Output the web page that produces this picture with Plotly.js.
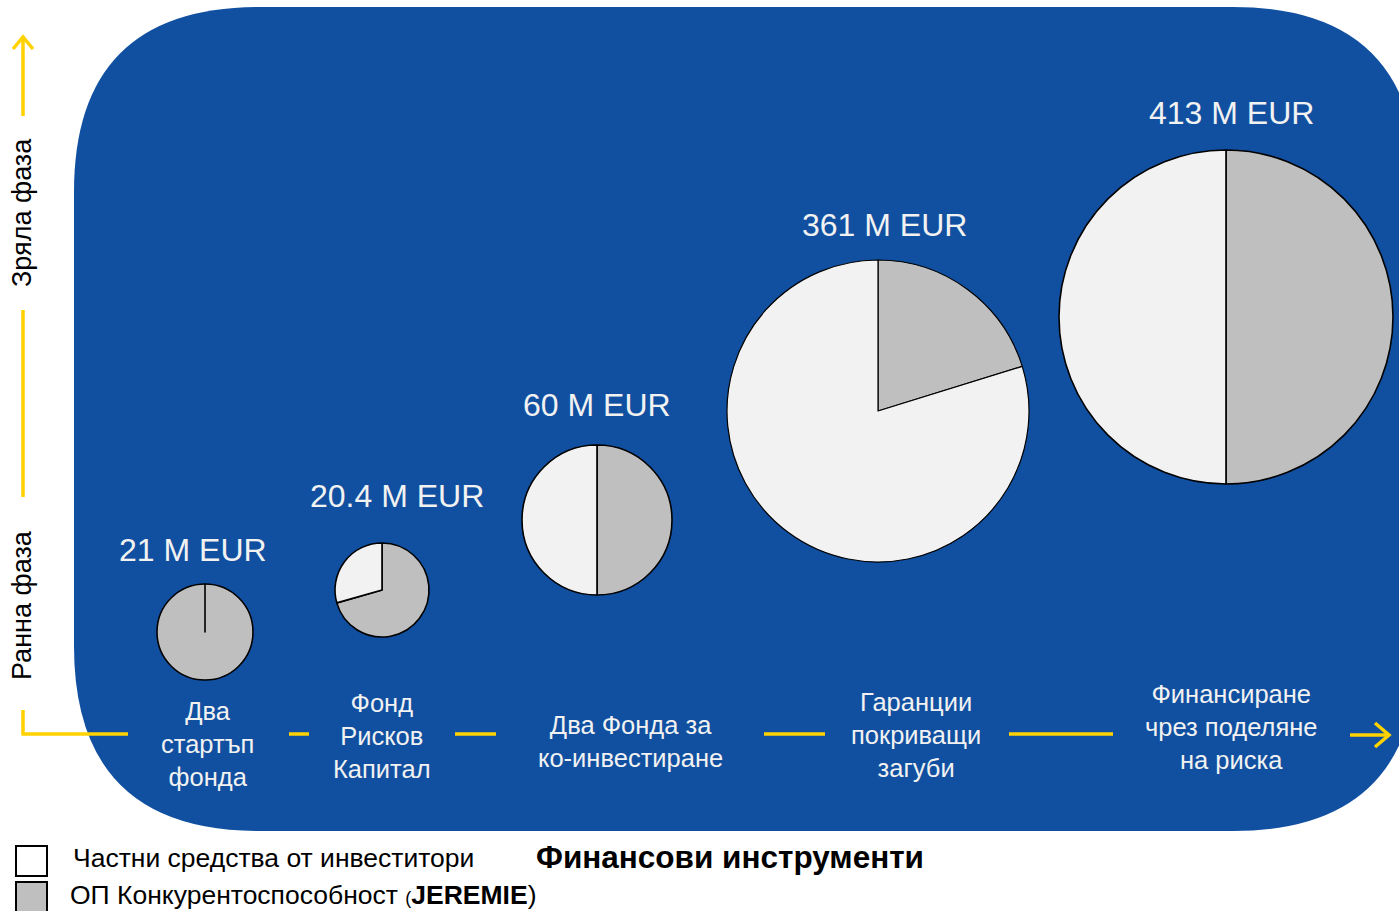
<!DOCTYPE html>
<html>
<head>
<meta charset="utf-8">
<script src="https://cdn.plot.ly/plotly-3.0.1.min.js"></script>
<style>html,body{margin:0;padding:0;background:#fff;}#chart{width:1399px;height:911px;}</style>
</head>
<body>
<div id="chart"></div>
<script>
// ---- data ----
var categories = ["Два<br>стартъп<br>фонда", "Фонд<br>Рисков<br>Капитал", "Два Фонда за<br>ко-инвестиране", "Гаранции<br>покриващи<br>загуби", "Финансиране<br>чрез поделяне<br>на риска"];
var totalLabels = ["21 M EUR", "20.4 M EUR", "60 M EUR", "361 M EUR", "413 M EUR"];
var sliceNames = ["ОП Конкурентоспособност (JEREMIE)", "Частни средства от инвеститори"];
var jeremieFunds = [21, 14.4, 30, 73, 206.5];
var privateFunds = [0, 6, 30, 288, 206.5];
var phaseLabels = ["Ранна фаза", "Зряла фаза"];
var axisTitle = "Финансови инструменти";

// ---- layout constants (pixels) ----
var W = 1399, H = 911;
var pieCx = [205, 382, 597, 878, 1226];
var pieCy = [632, 590, 520, 411, 317];
var pieR  = [48, 47, 75, 151, 167];
var totalPos = [[193, 550], [397, 496], [597, 405], [884, 225], [1231, 113]];
var catPos = [[207, 744], [382, 736], [630, 741], [916, 735], [1231, 727]];

var BLUE = "rgb(17,80,160)";
var YELLOW = "#FFD200";
var LIGHT = "#F2F2F2";
var GRAY = "#BFBFBF";
var FONT = "Liberation Sans, Arial, sans-serif";

var traces = [{x: [], y: [], type: "scatter", mode: "markers", showlegend: false, hoverinfo: "skip"}];
for (var i = 0; i < categories.length; i++) {
  traces.push({
    type: "pie",
    labels: sliceNames,
    values: [jeremieFunds[i], privateFunds[i]],
    sort: false,
    direction: "clockwise",
    rotation: 0,
    textinfo: "none",
    hoverinfo: "label+value",
    showlegend: false,
    marker: {colors: [GRAY, LIGHT], line: {color: "#000", width: i === 3 ? 1.2 : 1.6}},
    domain: {
      x: [(pieCx[i] - pieR[i]) / W, (pieCx[i] + pieR[i]) / W],
      y: [(H - pieCy[i] - pieR[i]) / H, (H - pieCy[i] + pieR[i]) / H]
    }
  });
}

// rounded background
function roundedRect(x0, y0, x1, y1, r) {
  return "M" + (x0 + r) + "," + y0 + " L" + (x1 - r) + "," + y0 +
    " Q" + x1 + "," + y0 + " " + x1 + "," + (y0 + r) +
    " L" + x1 + "," + (y1 - r) +
    " Q" + x1 + "," + y1 + " " + (x1 - r) + "," + y1 +
    " L" + (x0 + r) + "," + y1 +
    " Q" + x0 + "," + y1 + " " + x0 + "," + (y1 - r) +
    " L" + x0 + "," + (y0 + r) +
    " Q" + x0 + "," + y0 + " " + (x0 + r) + "," + y0 + " Z";
}

var shapes = [];
shapes.push({type: "path", xref: "x", yref: "y", path: roundedRect(74, 7, 1418, 831, 185), fillcolor: BLUE, line: {width: 0}, layer: "below"});

function seg(x0, y0, x1, y1) {
  shapes.push({type: "line", xref: "x", yref: "y", x0: x0, y0: y0, x1: x1, y1: y1, line: {color: YELLOW, width: 3.5}, layer: "above"});
}
// vertical phase axis
seg(23, 36, 23, 116);
seg(23, 310, 23, 497);
seg(23, 710, 23, 734);
shapes.push({type: "path", xref: "x", yref: "y", path: "M13,49 L23,37 L33,49", line: {color: YELLOW, width: 3.5}, layer: "above"});
// horizontal instrument axis
seg(21.5, 734, 128, 734);
seg(289, 734, 309, 734);
seg(455, 734, 496, 734);
seg(764, 734, 825, 734);
seg(1009, 734, 1113, 734);
seg(1350, 735, 1388, 735);
shapes.push({type: "path", xref: "x", yref: "y", path: "M1375,723 L1389,735 L1375,747", line: {color: YELLOW, width: 3.5}, layer: "above"});
// legend boxes
shapes.push({type: "rect", xref: "x", yref: "y", x0: 16, y0: 846, x1: 47, y1: 876, fillcolor: "#fff", line: {color: "#000", width: 2}});
shapes.push({type: "rect", xref: "x", yref: "y", x0: 16, y0: 882, x1: 47, y1: 913, fillcolor: GRAY, line: {color: "#000", width: 2}});

var ann = [];
for (var j = 0; j < categories.length; j++) {
  ann.push({x: totalPos[j][0], y: totalPos[j][1], xref: "x", yref: "y", text: totalLabels[j], showarrow: false,
    font: {family: FONT, size: 32, color: LIGHT}, xanchor: "center", yanchor: "middle"});
  ann.push({x: catPos[j][0], y: catPos[j][1], xref: "x", yref: "y", text: categories[j], showarrow: false,
    font: {family: FONT, size: 25.5, color: LIGHT}, xanchor: "center", yanchor: "middle", align: "center"});
}
ann.push({x: 22, y: 605, xref: "x", yref: "y", text: phaseLabels[0], textangle: -90, showarrow: false,
  font: {family: FONT, size: 27, color: "#000"}, xanchor: "center", yanchor: "middle"});
ann.push({x: 22, y: 213, xref: "x", yref: "y", text: phaseLabels[1], textangle: -90, showarrow: false,
  font: {family: FONT, size: 27, color: "#000"}, xanchor: "center", yanchor: "middle"});
ann.push({x: 71, y: 858, xref: "x", yref: "y", text: sliceNames[1], showarrow: false,
  font: {family: FONT, size: 26.5, color: "#000"}, xanchor: "left", yanchor: "middle"});
ann.push({x: 68, y: 895, xref: "x", yref: "y",
  text: "ОП Конкурентоспособност <span style='font-size:18px'>(</span><b>JEREMIE</b>)", showarrow: false,
  font: {family: FONT, size: 26.5, color: "#000"}, xanchor: "left", yanchor: "middle"});
ann.push({x: 730, y: 857, xref: "x", yref: "y", text: "<b>" + axisTitle + "</b>", showarrow: false,
  font: {family: FONT, size: 31.5, color: "#000"}, xanchor: "center", yanchor: "middle"});

var layout = {
  width: W, height: H,
  margin: {l: 0, r: 0, t: 0, b: 0, pad: 0},
  paper_bgcolor: "#fff", plot_bgcolor: "rgba(0,0,0,0)",
  xaxis: {range: [0, W], visible: false, fixedrange: true},
  yaxis: {range: [H, 0], visible: false, fixedrange: true},
  showlegend: false,
  shapes: shapes,
  annotations: ann
};

Plotly.newPlot("chart", traces, layout, {displayModeBar: false, staticPlot: true});
</script>
</body>
</html>
